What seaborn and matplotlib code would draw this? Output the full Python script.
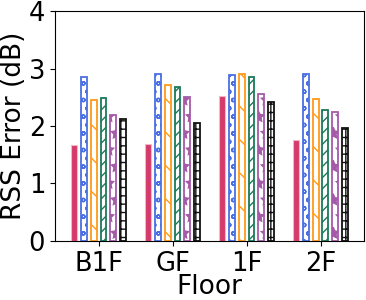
import pandas as pd
import matplotlib
matplotlib.use('Agg')
import matplotlib.pyplot as plt
import seaborn as sns

# values
floors = ['B1F', 'GF', '1F', '2F']
methods = ['M1', 'M2', 'M3', 'M4', 'M5', 'M6']
m1 = [1.67, 1.68, 2.52, 1.76]
m2 = [2.86, 2.90, 2.89, 2.90]
m3 = [2.46, 2.72, 2.91, 2.47]
m4 = [2.48, 2.68, 2.85, 2.27]
m5 = [2.20, 2.51, 2.56, 2.25]
m6 = [2.12, 2.05, 2.41, 1.96]

colors = ['#d6396b', '#4a6fe3', '#ff9a1a', '#1b7a5a', '#a45aa8', '#111111']
hatches = [None, 'oo', '\\', '///', '*', '++']

rows = []
for name, vals in zip(methods, [m1, m2, m3, m4, m5, m6]):
    for f, v in zip(floors, vals):
        rows.append({'Floor': f, 'Method': name, 'Error': v})
df = pd.DataFrame(rows)

plt.rcParams['font.size'] = 18
plt.rcParams['hatch.linewidth'] = 1.0

fig, ax = plt.subplots(figsize=(3.66, 3.0), dpi=100)
sns.barplot(data=df, x='Floor', y='Error', hue='Method', order=floors,
            hue_order=methods, width=0.8, gap=0.4, legend=False, ax=ax)

# style each series: first one solid, the rest hatched outlines
for i, cont in enumerate(ax.containers):
    for bar in cont:
        if hatches[i] is None:
            bar.set_facecolor(colors[i])
            bar.set_edgecolor('#f2b8c8')
            bar.set_linewidth(0.8)
        else:
            bar.set_facecolor('white')
            bar.set_edgecolor(colors[i])
            bar.set_hatch(hatches[i])
            bar.set_linewidth(1.3)

ax.set_ylim(0, 4)
ax.set_yticks([0, 1, 2, 3, 4])
ax.set_xlim(-0.59, 3.59)
ax.set_xlabel('Floor', fontsize=19, labelpad=-2)
ax.set_ylabel('RSS Error (dB)', fontsize=19, labelpad=1)
ax.tick_params(labelsize=18.5)

plt.subplots_adjust(left=0.15, right=0.995, top=0.963, bottom=0.197)
plt.savefig('out.png', dpi=100)
